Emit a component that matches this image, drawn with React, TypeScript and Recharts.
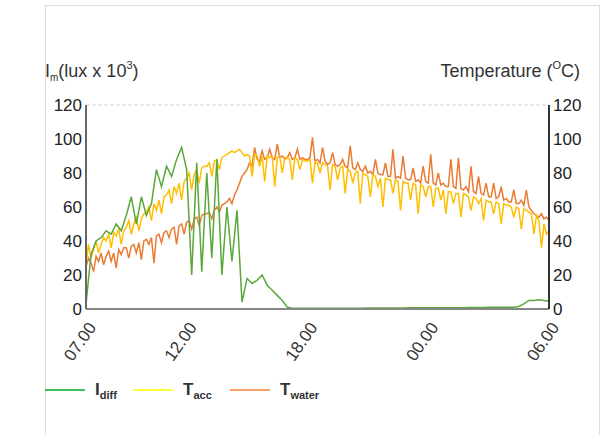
import { LineChart, Line, XAxis, YAxis, CartesianGrid } from "recharts";

// time in hours (07.00 -> 30 = 06.00 next morning), 7.5 min steps for the temperatures
const tempHours = [
  7, 7.125, 7.25, 7.375, 7.5, 7.625, 7.75, 7.875,
  8, 8.125, 8.25, 8.375, 8.5, 8.625, 8.75, 8.875,
  9, 9.125, 9.25, 9.375, 9.5, 9.625, 9.75, 9.875,
  10, 10.125, 10.25, 10.375, 10.5, 10.625, 10.75, 10.875,
  11, 11.125, 11.25, 11.375, 11.5, 11.625, 11.75, 11.875,
  12, 12.125, 12.25, 12.375, 12.5, 12.625, 12.75, 12.875,
  13, 13.125, 13.25, 13.375, 13.5, 13.625, 13.75, 13.875,
  14, 14.125, 14.25, 14.375, 14.5, 14.625, 14.75, 14.875,
  15, 15.125, 15.25, 15.375, 15.5, 15.625, 15.75, 15.875,
  16, 16.125, 16.25, 16.375, 16.5, 16.625, 16.75, 16.875,
  17, 17.125, 17.25, 17.375, 17.5, 17.625, 17.75, 17.875,
  18, 18.125, 18.25, 18.375, 18.5, 18.625, 18.75, 18.875,
  19, 19.125, 19.25, 19.375, 19.5, 19.625, 19.75, 19.875,
  20, 20.125, 20.25, 20.375, 20.5, 20.625, 20.75, 20.875,
  21, 21.125, 21.25, 21.375, 21.5, 21.625, 21.75, 21.875,
  22, 22.125, 22.25, 22.375, 22.5, 22.625, 22.75, 22.875,
  23, 23.125, 23.25, 23.375, 23.5, 23.625, 23.75, 23.875,
  24, 24.125, 24.25, 24.375, 24.5, 24.625, 24.75, 24.875,
  25, 25.125, 25.25, 25.375, 25.5, 25.625, 25.75, 25.875,
  26, 26.125, 26.25, 26.375, 26.5, 26.625, 26.75, 26.875,
  27, 27.125, 27.25, 27.375, 27.5, 27.625, 27.75, 27.875,
  28, 28.125, 28.25, 28.375, 28.5, 28.625, 28.75, 28.875,
  29, 29.125, 29.25, 29.375, 29.5, 29.625, 29.75, 29.875,
  30,
];

// T_acc (°C)
const tAcc = [
  26, 38, 30, 35, 40, 33, 38, 42,
  40, 44, 36, 45, 43, 47, 38, 46,
  48, 52, 44, 50, 54, 46, 53, 56,
  57, 60, 52, 62, 58, 64, 56, 66,
  67, 70, 62, 72, 68, 74, 64, 75,
  77, 80, 70, 79, 82, 74, 83, 84,
  84, 86, 78, 87, 88, 82, 89, 90,
  91, 92, 93, 92, 93, 94, 92, 90,
  91, 90, 78, 91, 90, 84, 90, 75,
  90, 89, 90, 72, 89, 90, 80, 89,
  89, 88, 76, 89, 88, 82, 88, 87,
  87, 88, 74, 86, 86, 80, 86, 85,
  84, 70, 85, 84, 76, 83, 84, 68,
  82, 81, 74, 80, 81, 62, 80, 79,
  78, 66, 79, 78, 72, 77, 60, 77,
  76, 76, 68, 76, 75, 58, 75, 74,
  74, 64, 74, 73, 56, 73, 72, 66,
  72, 72, 60, 71, 71, 64, 70, 56,
  69, 69, 62, 68, 68, 54, 68, 67,
  66, 58, 66, 65, 62, 65, 52, 64,
  63, 63, 56, 63, 62, 50, 62, 61,
  61, 60, 54, 60, 59, 47, 59, 58,
  57, 56, 44, 55, 52, 36, 50, 44,
  46,
];

// T_water (°C)
const tWater = [
  25, 30, 27, 22, 31, 28, 33, 26,
  31, 34, 28, 33, 24, 35, 32, 36,
  36, 30, 37, 38, 33, 39, 29, 40,
  41, 38, 42, 27, 43, 44, 39, 45,
  46, 42, 47, 48, 38, 49, 50, 44,
  51, 52, 47, 53, 54, 49, 55, 56,
  56, 57, 53, 58, 60, 57, 61, 62,
  63, 65, 62, 67, 70, 74, 78, 80,
  82, 86, 84, 95, 88, 87, 93, 88,
  89, 94, 89, 88, 97, 89, 90, 88,
  89, 92, 88, 89, 94, 88, 89, 88,
  88, 89, 101, 87, 88, 86, 95, 87,
  85, 86, 92, 85, 84, 85, 88, 84,
  83, 96, 83, 82, 86, 82, 81, 84,
  80, 81, 79, 88, 80, 79, 79, 86,
  78, 78, 94, 77, 78, 77, 90, 77,
  76, 76, 83, 75, 76, 74, 84, 75,
  74, 91, 74, 73, 80, 73, 74, 72,
  72, 88, 72, 71, 89, 71, 70, 72,
  69, 84, 69, 68, 78, 68, 67, 74,
  66, 66, 74, 65, 66, 72, 64, 65,
  63, 63, 70, 62, 62, 64, 61, 70,
  60, 58, 56, 55, 54, 56, 53, 54,
  52,
];

// 15 min steps for the diffuse light
const diffHours = [
  7, 7.25, 7.5, 7.75, 8, 8.25, 8.5, 8.75, 9, 9.25, 9.5, 9.75,
  10, 10.25, 10.5, 10.75, 11, 11.25, 11.5, 11.75, 12, 12.25, 12.5, 12.75,
  13, 13.25, 13.5, 13.75, 14, 14.25, 14.5, 14.75, 15, 15.25, 15.5, 15.75,
  16, 16.25, 16.5, 16.75, 17, 17.25, 17.5, 17.75, 18, 18.25, 18.5, 18.75,
  19, 19.25, 19.5, 19.75, 20, 20.25, 20.5, 20.75, 21, 21.25, 21.5, 21.75,
  22, 22.25, 22.5, 22.75, 23, 23.25, 23.5, 23.75, 24, 24.25, 24.5, 24.75,
  25, 25.25, 25.5, 25.75, 26, 26.25, 26.5, 26.75, 27, 27.25, 27.5, 27.75,
  28, 28.25, 28.5, 28.75, 29, 29.25, 29.5, 29.75, 30,
];

// I_diff (lux x 10^3)
const iDiff = [
  3, 32, 40, 42, 46, 44, 50, 46, 55, 66, 50, 66,
  55, 62, 82, 72, 84, 78, 88, 95, 82, 20, 86, 22,
  80, 30, 88, 20, 60, 28, 58, 4, 18, 15, 17, 20,
  14, 11, 8, 5, 1, 0.5, 0.5, 0.5, 0.5, 0.5, 0.5, 0.5,
  0.5, 0.5, 0.5, 0.5, 0.5, 0.5, 0.5, 0.5, 0.6, 0.6, 0.6, 0.6,
  0.6, 0.6, 0.6, 0.6, 0.7, 0.7, 0.7, 0.7, 0.7, 0.7, 0.8, 0.8,
  0.8, 0.8, 0.8, 0.8, 0.9, 0.9, 0.9, 0.9, 1, 1, 1, 1,
  1, 1, 1.5, 3, 5, 5, 5.5, 5, 4.5,
];

const timeTicks = [7, 12, 18, 24, 30];
const timeLabels = ["07.00", "12.00", "18.00", "00.00", "06.00"];
const yTicks = [0, 20, 40, 60, 80, 100, 120];

const tempData = tempHours.map((t, i) => ({ t, acc: tAcc[i], water: tWater[i] }));
const diffData = diffHours.map((t, i) => ({ t, diff: iDiff[i] }));

const FONT = "'Liberation Sans', Arial, sans-serif";

function TimeTick({ x, y, payload }: any) {
  const idx = timeTicks.indexOf(payload.value);
  const ax = x + 6;
  const ay = y + 7;
  return (
    <text
      x={ax}
      y={ay}
      transform={`rotate(-55 ${ax} ${ay})`}
      textAnchor="end"
      dy="0.35em"
      fontSize={17}
      fontFamily={FONT}
      fill="#333"
    >
      {timeLabels[idx]}
    </text>
  );
}

function LegendItem({ left, color, main, sub }: { left: number; color: string; main: string; sub: string }) {
  return (
    <div style={{ position: "absolute", left, top: 378, height: 24, display: "flex", alignItems: "center" }}>
      <div style={{ width: 40, height: 2, background: color, marginRight: 10 }} />
      <span style={{ fontWeight: "bold", fontSize: 17, color: "#333", lineHeight: "24px" }}>
        {main}
        <span style={{ fontSize: 11, position: "relative", top: 4 }}>{sub}</span>
      </span>
    </div>
  );
}

export default function App() {
  return (
    <div
      style={{
        position: "absolute",
        left: 0,
        top: 0,
        width: 606,
        height: 435,
        background: "#fff",
        fontFamily: FONT,
        overflow: "hidden",
      }}
    >
      {/* frame */}
      <div
        style={{
          position: "absolute",
          left: 45,
          top: 5,
          width: 553,
          height: 440,
          borderLeft: "1px solid #ddd",
          borderTop: "1px solid #ddd",
          borderRight: "1px solid #ddd",
        }}
      />
      <div style={{ position: "absolute", left: 45, top: 60, fontSize: 18, lineHeight: "22px", color: "#333" }}>
        I<span style={{ fontSize: 10, position: "relative", top: 4 }}>m</span>(lux x 10
        <span style={{ fontSize: 11, position: "relative", top: -8 }}>3</span>)
      </div>
      <div style={{ position: "absolute", right: 26, top: 60, fontSize: 18, lineHeight: "22px", color: "#333" }}>
        Temperature (<span style={{ fontSize: 11, position: "relative", top: -8 }}>O</span>C)
      </div>
      <div style={{ position: "absolute", left: 0, top: 0 }}>
        <LineChart width={606} height={435} margin={{ top: 105, right: 17, bottom: 66, left: 46 }}>
          <CartesianGrid vertical={false} stroke="#d4d4d4" strokeDasharray="4 2" />
          <XAxis
            dataKey="t"
            type="number"
            domain={[7, 30]}
            ticks={timeTicks}
            tick={<TimeTick />}
            tickLine={false}
            height={60}
            stroke="#888"
            strokeWidth={2}
            allowDuplicatedCategory={false}
          />
          <YAxis
            yAxisId="left"
            domain={[0, 120]}
            ticks={yTicks}
            width={40}
            tickLine={false}
            tickSize={0}
            tickMargin={4}
            stroke="#666"
            strokeWidth={2}
            tick={{ fontSize: 17, fill: "#222", fontFamily: FONT }}
          />
          <YAxis
            yAxisId="right"
            orientation="right"
            domain={[0, 120]}
            ticks={yTicks}
            width={40}
            tickLine={false}
            tickSize={0}
            tickMargin={4}
            stroke="#333"
            strokeWidth={2}
            tick={{ fontSize: 17, fill: "#222", fontFamily: FONT }}
          />
          <Line
            yAxisId="right"
            data={tempData}
            dataKey="water"
            stroke="#eb7a32"
            strokeWidth={1.5}
            dot={false}
            type="linear"
            isAnimationActive={false}
          />
          <Line
            yAxisId="right"
            data={tempData}
            dataKey="acc"
            stroke="#ffbf00"
            strokeWidth={1.5}
            dot={false}
            type="linear"
            isAnimationActive={false}
          />
          <Line
            yAxisId="left"
            data={diffData}
            dataKey="diff"
            stroke="#5ba83a"
            strokeWidth={1.5}
            dot={false}
            type="linear"
            isAnimationActive={false}
          />
        </LineChart>
      </div>
      <LegendItem left={45} color="#3fbf5f" main="I" sub="diff" />
      <LegendItem left={133} color="#ffff33" main="T" sub="acc" />
      <LegendItem left={230} color="#f5a36b" main="T" sub="water" />
    </div>
  );
}
